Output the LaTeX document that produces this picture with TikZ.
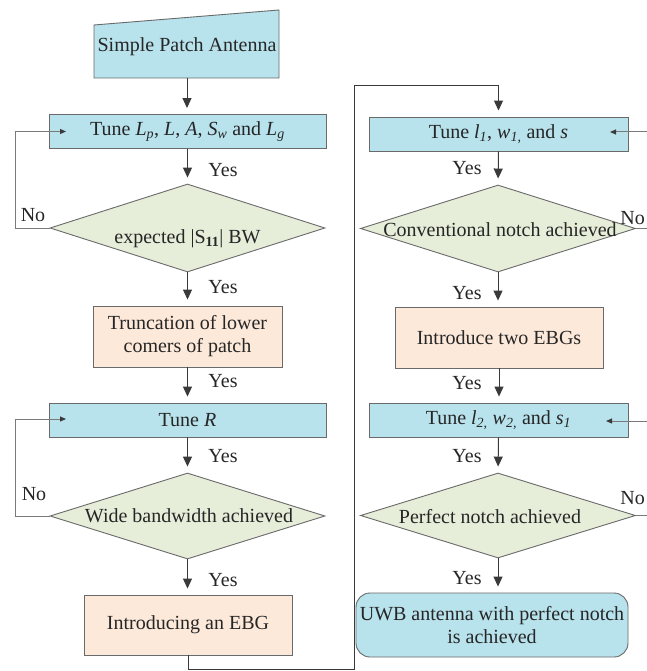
\documentclass[tikz,border=0pt]{standalone}
\usepackage{fontspec}
\setmainfont{Liberation Serif}
\usetikzlibrary{shapes.geometric,arrows.meta}
\definecolor{cblue}{HTML}{B8E2EC}
\definecolor{cgreen}{HTML}{E6EDD9}
\definecolor{cpeach}{HTML}{FDE9DA}
\definecolor{cedge}{HTML}{6A6A6A}
\definecolor{cline}{HTML}{3A3A3A}
\definecolor{cloop}{HTML}{7A7A7A}
\newcommand{\iv}[1]{\textit{#1}}
\newcommand{\isub}[2]{\textit{#1}\textsubscript{\textit{#2}}}
\begin{document}
\begin{tikzpicture}[x=1pt,y=-1pt,
  font=\rmfamily\fontsize{20}{23}\selectfont,
  every node/.style={text=black!85},
  tunebox/.style={draw=cedge, line width=0.9pt, fill=cblue, minimum width=277pt, minimum height=34pt, inner sep=0pt},
  tunebox2/.style={tunebox, minimum width=259pt},
  procbox/.style={draw=cedge, line width=0.9pt, fill=cpeach, minimum height=61pt, inner sep=0pt, align=center},
  decbox/.style={diamond, draw=cedge, line width=0.9pt, fill=cgreen, minimum width=275pt, minimum height=87pt, inner sep=0pt},
  endbox/.style={draw=cedge, line width=0.9pt, fill=cblue, rounded corners=14pt, minimum width=272pt, minimum height=64pt, inner sep=0pt, align=center},
  lbl/.style={inner sep=0pt},
  arr/.style={draw=cline, line width=1pt, -{Triangle[length=10pt,width=9pt]}, shorten >=6pt},
  looparr/.style={draw=cloop, line width=1pt, -{Triangle[length=6pt,width=5pt,color=cline]}},
  plainline/.style={draw=cloop, line width=1pt}
]
\useasboundingbox (0,0) rectangle (646,671);
\fill[white] (0,0) rectangle (646,671);

% manual input shape
\draw[draw=cedge, line width=0.9pt, fill=cblue] (94,78) -- (94,25) -- (279,10) -- (279,78) -- cycle;
\node[minimum width=185pt, minimum height=53pt, inner sep=0pt] (spa) at (187,51.5) {};
\node[lbl] (spat) at (187,47) {Simple Patch Antenna};

% left column
\node[tunebox] (t1) at (187.5,131.5) {Tune \isub{L}{p}, \iv{L}, \iv{A}, \isub{S}{w} and \isub{L}{g}};
\node[decbox, minimum height=88pt] (d1) at (187.5,228) {};
\node[lbl] (d1t) at (187.5,239) {expected |S\textsubscript{\textbf{11}}| BW};
\node[procbox, minimum width=189pt] (tr) at (187.5,336.5) {Truncation of lower\\comers of patch};
\node[tunebox] (t2) at (187.5,420) {Tune \iv{R}};
\node[decbox, minimum height=86pt] (d2) at (187.5,516) {};
\node[lbl] (d2t) at (189,516) {Wide bandwidth achieved};
\node[procbox, minimum width=208pt, minimum height=60pt] (ebg) at (188,625) {Introducing an EBG};

% right column
\node[tunebox2] (t3) at (498.5,134) {Tune \isub{l}{1}, \isub{w}{1,} and \iv{s}};
\node[decbox] (d3) at (498,228.5) {};
\node[lbl] (d3t) at (500,230) {Conventional notch achieved};
\node[procbox, minimum width=208pt] (two) at (499,337.5) {Introduce two EBGs};
\node[tunebox2] (t4) at (498.5,420) {Tune \isub{l}{2,} \isub{w}{2,} and \isub{s}{1}};
\node[decbox, minimum height=85pt] (d4) at (498,515.5) {};
\node[lbl] (d4t) at (490,517) {Perfect notch achieved};
\node[endbox] (uwb) at (492,625) {UWB antenna with perfect notch\\is achieved};

% left column arrows
\draw[arr] (spa.south) -- (spa.south |- t1.north);
\draw[arr] (t1.south) -- (d1.north);
\draw[arr] (d1.south) -- (tr.north);
\draw[arr] (tr.south) -- (t2.north);
\draw[arr] (t2.south) -- (d2.north);
\draw[arr] (d2.south) -- (d2.south |- ebg.north);

\node[lbl] (y1) at (223,170) {Yes};
\node[lbl] (y2) at (223,287) {Yes};
\node[lbl] (y3) at (223,381) {Yes};
\node[lbl] (y4) at (223,456) {Yes};
\node[lbl] (y5) at (223,580) {Yes};

% left loops
\coordinate (l1a) at (15,228);
\coordinate (l1b) at (15,131.5);
\coordinate (l1c) at (66,131.5);
\draw[looparr] (d1.west) -- (l1a) -- (l1b) -- (l1c);
\node[lbl] (n1) at (33,215) {No};
\coordinate (l2a) at (15,516);
\coordinate (l2b) at (15,419);
\coordinate (l2c) at (66,419);
\draw[looparr] (d2.west) -- (l2a) -- (l2b) -- (l2c);
\node[lbl] (n2) at (34,494) {No};

% connection to right column
\coordinate (c1) at (188,669);
\coordinate (c2) at (354,669);
\coordinate (c3) at (354,86);
\coordinate (c4) at (498.5,86);
\draw[arr] (ebg.south) -- (c1) -- (c2) -- (c3) -- (c4) -- (t3.north);

% right column arrows
\draw[arr] (t3.south) -- (d3.north);
\draw[arr] (d3.south) -- (d3.south |- two.north);
\draw[arr] (two.south) -- (two.south |- t4.north);
\draw[arr] (t4.south) -- (d4.north);
\draw[arr] (d4.south) -- (d4.south |- uwb.north);

\node[lbl] (y6) at (467,168) {Yes};
\node[lbl] (y7) at (467,293) {Yes};
\node[lbl] (y8) at (467,383) {Yes};
\node[lbl] (y9) at (467,456) {Yes};
\node[lbl] (y10) at (467,578) {Yes};

% right loops (partly outside the page)
\coordinate (r1a) at (670,228.5);
\coordinate (r1b) at (670,132);
\coordinate (r1c) at (610,132);
\draw[looparr] (d3.east) -- (r1a) -- (r1b) -- (r1c);
\node[lbl, anchor=east] (n3) at (645,218) {No};
\coordinate (r2a) at (670,515.5);
\coordinate (r2b) at (670,421);
\coordinate (r2c) at (606,421);
\draw[looparr] (d4.east) -- (r2a) -- (r2b) -- (r2c);
\node[lbl, anchor=east] (n4) at (645,498) {No};
\end{tikzpicture}
\end{document}
